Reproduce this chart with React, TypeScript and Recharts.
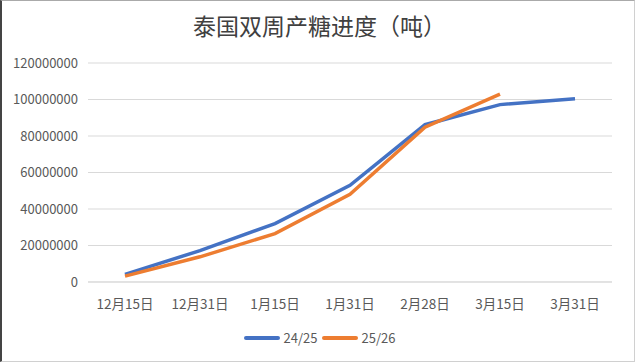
import React from 'react';
import { LineChart, Line, XAxis, YAxis, CartesianGrid } from 'recharts';

const categories = ['12月15日', '12月31日', '1月15日', '1月31日', '2月28日', '3月15日', '3月31日'];
const series2425 = [4200000, 17200000, 32000000, 53000000, 86200000, 97200000, 100400000];
const series2526 = [3200000, 13800000, 26500000, 48000000, 84800000, 103000000, null];
const yTicks = [0, 20000000, 40000000, 60000000, 80000000, 100000000, 120000000];
const seriesNames = ['24/25', '25/26'];
const colors = ['#4472C4', '#ED7D31'];

const data = categories.map((c, i) => ({ name: c, a: series2425[i], b: series2526[i] }));

const FONT = '"Noto Sans CJK SC", "Noto Sans", sans-serif';

export default function App() {
  return (
    <div style={{ position: 'absolute', left: 0, top: 0, width: 635, height: 362, background: '#fff', boxSizing: 'border-box', borderLeft: '2px solid #444', borderTop: '1px solid #aaa', borderRight: '1px solid #d0d0d0', borderBottom: '1px solid #d0d0d0', overflow: 'hidden' }}>
      <div style={{ position: 'absolute', left: 0, top: 7, width: 635, textAlign: 'center', fontFamily: '"Noto Sans CJK SC", sans-serif', fontSize: 23, color: '#404040' }}>
        泰国双周产糖进度（吨）
      </div>
      <div style={{ position: 'absolute', left: -2, top: -1 }}>
        <LineChart width={635} height={362} data={data} margin={{ top: 63, right: 23, bottom: 0, left: 0 }}>
          <CartesianGrid vertical={false} stroke="#d9d9d9" />
          <XAxis dataKey="name" axisLine={{ stroke: '#d9d9d9' }} tickLine={false} tickMargin={11} height={80}
            padding={{ left: 37, right: 37 }}
            tick={{ fill: '#595959', fontSize: 13.5, fontFamily: FONT }} interval={0} />
          <YAxis width={88} domain={[0, 120000000]} ticks={yTicks} axisLine={false} tickLine={false} tickSize={0} tickMargin={10}
            tick={{ fill: '#595959', fontSize: 13, fontFamily: FONT }} />
          <Line type="linear" dataKey="a" name="24/25" stroke={colors[0]} strokeWidth={3.5} dot={false} isAnimationActive={false} />
          <Line type="linear" dataKey="b" name="25/26" stroke={colors[1]} strokeWidth={3.5} dot={false} isAnimationActive={false} connectNulls={false} />
        </LineChart>
      </div>
      <div style={{ position: 'absolute', left: 0, top: 327, width: 635, display: 'flex', justifyContent: 'center', alignItems: 'center', fontFamily: FONT, fontSize: 13, color: '#595959' }}>
        {seriesNames.map((n, i) => (
          <div key={n} style={{ display: 'flex', alignItems: 'center', marginRight: i === 0 ? 4 : 0 }}>
            <div style={{ width: 36, height: 4, borderRadius: 2, background: colors[i], marginRight: 4 }} />
            <span>{n}</span>
          </div>
        ))}
      </div>
    </div>
  );
}
